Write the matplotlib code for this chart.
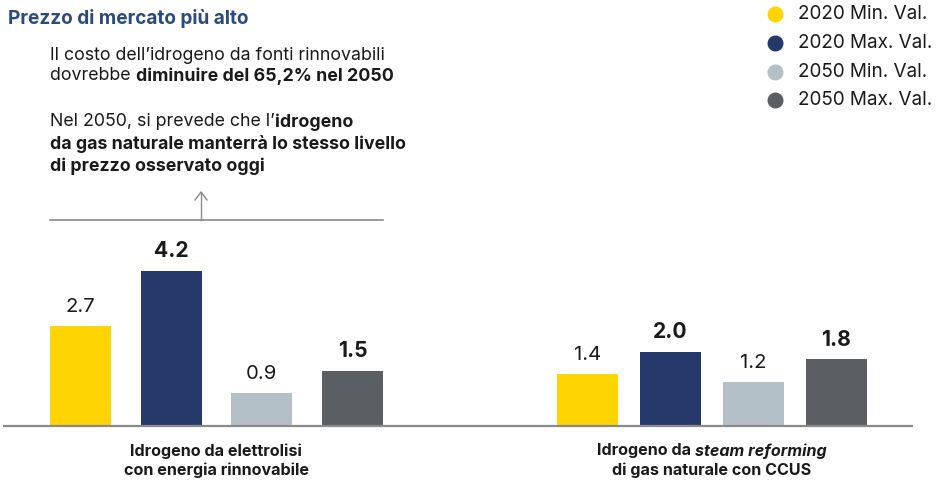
import matplotlib
matplotlib.use("Agg")
import matplotlib.pyplot as plt
from matplotlib.lines import Line2D

plt.rcParams['font.family'] = ['Inter', 'DejaVu Sans']

categories = ["Idrogeno da elettrolisi\ncon energia rinnovabile",
              "Idrogeno da steam reforming\ndi gas naturale con CCUS"]
series = ["2020 Min. Val.", "2020 Max. Val.", "2050 Min. Val.", "2050 Max. Val."]
values_elettrolisi = [2.7, 4.2, 0.9, 1.5]
values_steam = [1.4, 2.0, 1.2, 1.8]
labels_elettrolisi = ["2.7", "4.2", "0.9", "1.5"]
labels_steam = ["1.4", "2.0", "1.2", "1.8"]
bold_series = [False, True, False, True]

colors = ["#FFD400", "#253A6B", "#B4C0C8", "#5A5F63"]

W, H = 938, 480
fig = plt.figure(figsize=(W / 100, H / 100), dpi=100)

def fx(x):
    return x / W

def fy(y):
    return 1 - y / H

# bar axes: baseline at y=426 px, 37 px per unit
base = 426
ppu = 37.0
ymax = 10
ax = fig.add_axes([0, fy(base), 1, ppu * ymax / H])
ax.set_xlim(0, W)
ax.set_ylim(0, ymax)
ax.axis("off")

pos1 = [80.5, 171.5, 261.5, 352.5]
pos2 = [587.5, 670.5, 753.5, 836.5]
bw = 61
for vals, labs, pos in [(values_elettrolisi, labels_elettrolisi, pos1),
                        (values_steam, labels_steam, pos2)]:
    for i, (v, lab, p) in enumerate(zip(vals, labs, pos)):
        ax.bar(p, v, width=bw, color=colors[i], zorder=2)
        ax.annotate(lab, (p, v), xytext=(0, 7), textcoords="offset points",
                    ha="center", va="bottom",
                    fontsize=15.2 if bold_series[i] else 14.6,
                    fontweight="bold" if bold_series[i] else "normal",
                    color="#1a1a1a", clip_on=False)

ax.plot([3, 913], [0, 0], color="#8a8a8a", lw=1.6, zorder=3, clip_on=False,
        solid_capstyle="butt")

cat_fs = 11.6
# category labels
fig.text(fx(216), fy(451), "Idrogeno da elettrolisi", ha="center", va="center",
         fontsize=cat_fs, fontweight="bold", color="#1a1a1a")
fig.text(fx(216), fy(470), "con energia rinnovabile", ha="center", va="center",
         fontsize=cat_fs, fontweight="bold", color="#1a1a1a")

fig.canvas.draw()
r = fig.canvas.get_renderer()

def mixed_line(x, y, parts, fontsize, center=False, color="#1a1a1a"):
    # parts: list of (text, weight, style)
    arts = []
    widths = []
    for t, w, s in parts:
        a = fig.text(0, 0, t, fontsize=fontsize, fontweight=w, style=s,
                     va="center", ha="left", color=color)
        bb = a.get_window_extent(renderer=r)
        arts.append(a)
        widths.append(bb.width)
    total = sum(widths)
    cx = x - total / 2 if center else x
    for a, wdt in zip(arts, widths):
        a.set_position((fx(cx), fy(y)))
        cx += wdt

mixed_line(712, 451, [("Idrogeno da ", "bold", "normal"),
                      ("steam reforming", "bold", "italic")], cat_fs, center=True)
fig.text(fx(712), fy(470), "di gas naturale con CCUS", ha="center", va="center",
         fontsize=cat_fs, fontweight="bold", color="#1a1a1a")

# title
fig.text(fx(8), fy(18), "Prezzo di mercato più alto", ha="left", va="center",
         fontsize=13.7, fontweight="bold", color="#2B4A7E")

# annotation text
fs = 12.8
fig.text(fx(50), fy(55), "Il costo dell\u2019idrogeno da fonti rinnovabili",
         ha="left", va="center", fontsize=fs, color="#1a1a1a")
mixed_line(50, 76, [("dovrebbe ", "normal", "normal"),
                    ("diminuire del 65,2% nel 2050", "bold", "normal")], fs)
mixed_line(50, 122, [("Nel 2050, si prevede che l\u2019", "normal", "normal"),
                     ("idrogeno", "bold", "normal")], fs)
fig.text(fx(50), fy(144), "da gas naturale manterrà lo stesso livello",
         ha="left", va="center", fontsize=fs, fontweight="bold", color="#1a1a1a")
fig.text(fx(50), fy(166), "di prezzo osservato oggi",
         ha="left", va="center", fontsize=fs, fontweight="bold", color="#1a1a1a")

# bracket line and arrow
fig.add_artist(Line2D([fx(50), fx(383)], [fy(220), fy(220)], color="#8a8a8a", lw=1.2))
fig.add_artist(Line2D([fx(201), fx(201)], [fy(220), fy(192)], color="#8a8a8a", lw=1.0))
fig.add_artist(Line2D([fx(195), fx(201), fx(207)], [fy(200), fy(192), fy(200)],
                      color="#8a8a8a", lw=1.0))

# legend
leg_y = [14, 43, 72, 100]
for c, s, y in zip(colors, series, leg_y):
    fig.add_artist(Line2D([fx(775)], [fy(y)], marker="o", markersize=10.5,
                          color=c, linestyle="none"))
    fig.text(fx(798), fy(y), s, ha="left", va="center", fontsize=13.6,
             color="#1a1a1a")

fig.savefig("out.png", dpi=100)
